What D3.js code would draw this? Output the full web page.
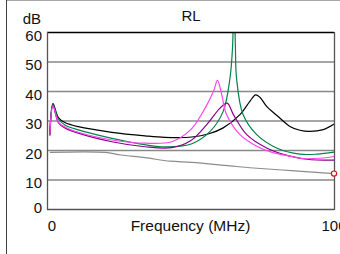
<!DOCTYPE html>
<html>
<head>
<meta charset="utf-8">
<script src="https://cdn.jsdelivr.net/npm/d3@7"></script>
<style>
  html, body { margin: 0; padding: 0; background: #fff; }
  svg { display: block; font-family: "Liberation Sans", Arial, sans-serif; }
</style>
</head>
<body>
<div id="chart"></div>
<script>
// Données
const yTicks = [0, 10, 20, 30, 40, 50, 60];
const xTickLabels = ["0", "100"];
const xTickValues = [0, 100];

const blackF  = [0, 1.1, 3, 5.3, 10, 21.8, 33.5, 40.5, 50, 56, 61, 66.9, 70.4, 72.4, 74, 76.3, 79.8, 84.5, 88, 91.5, 96.2, 100];
const blackDb = [25, 35.7, 31, 29.3, 27.9, 26, 24.8, 24.3, 24.4, 25.5, 27.5, 32, 36.5, 38.7, 37.8, 34.8, 31.8, 28, 26.7, 26.3, 26.9, 28.8];

const greenF  = [0, 1.1, 3, 5.3, 10, 15.9, 27.6, 39.4, 46, 50, 56.4, 61, 63.4, 64.3, 64.8, 65.3, 65.7, 68, 72.8, 79.8, 88, 94, 100];
const greenDb = [25, 35.3, 30.5, 28.5, 26.8, 25.3, 22.8, 21.1, 21.3, 22.1, 26.3, 33.1, 44.4, 55, 75, 55, 44.4, 32, 25.2, 20.7, 18.6, 18.6, 19.3];

const pinkF  = [0, 1.1, 3, 5.3, 10, 21.8, 33.5, 42.9, 49.5, 54, 57.6, 59, 60.5, 62.2, 66.9, 72.8, 78, 84.5, 89, 95, 100];
const pinkDb = [25, 35, 29.5, 27.8, 26, 23.4, 22.3, 22.8, 26.8, 33.1, 39.9, 43.6, 38.7, 32, 25.2, 21.3, 19.3, 17.9, 17.1, 17.2, 17.8];

const purpleF  = [0, 1.1, 3, 5.3, 10, 21.8, 33.5, 42.9, 49.5, 55.2, 59.9, 62.4, 64.6, 69.3, 76.3, 84.5, 92, 100];
const purpleDb = [25, 35, 29.3, 27.5, 25.7, 22.8, 21.1, 20.8, 23.1, 28.6, 34.2, 35.9, 32, 25.2, 20.7, 17.9, 16.7, 16.6];

const grayF  = [0, 19.4, 25, 33.5, 42.3, 50, 63.4, 71.6, 85, 100];
const grayDb = [19.2, 19.2, 18.3, 17.4, 16.2, 15.8, 14.6, 13.9, 13, 12];

const series = [
    { f: grayF,   db: grayDb,   color: "#8c8c8c" },
    { f: blackF,  db: blackDb,  color: "#000000" },
    { f: greenF,  db: greenDb,  color: "#00844a" },
    { f: purpleF, db: purpleDb, color: "#880088" },
    { f: pinkF,   db: pinkDb,   color: "#ff44ee" }
];

const CONFIG = {
    width: 340,
    height: 254,
    left: 47,
    right: 334,
    top: 32,
    bottom: 209
};

const svg = d3.select("#chart").append("svg")
    .attr("width", CONFIG.width)
    .attr("height", CONFIG.height);

// Cadre extérieur
svg.append("line")
    .attr("x1", 6).attr("x2", CONFIG.width).attr("y1", 0.5).attr("y2", 0.5)
    .attr("stroke", "#a8a8a8");
svg.append("line")
    .attr("x1", 6.5).attr("x2", 6.5).attr("y1", 0).attr("y2", CONFIG.height)
    .attr("stroke", "#444");

const x = d3.scaleLinear().domain([-1, 100]).range([CONFIG.left, CONFIG.right]);
const y = d3.scaleLinear().domain([0, 60]).range([CONFIG.bottom, CONFIG.top]);

// Grille
svg.selectAll(".grid")
    .data(yTicks.filter(v => v > 0 && v < 60))
    .enter()
    .append("line")
    .attr("x1", CONFIG.left).attr("x2", CONFIG.right)
    .attr("y1", d => y(d) + 0.5).attr("y2", d => y(d) + 0.5)
    .attr("stroke", "#888")
    .attr("stroke-width", 1.3);

// Courbes
svg.append("clipPath").attr("id", "plot-clip")
    .append("rect")
    .attr("x", CONFIG.left).attr("y", CONFIG.top)
    .attr("width", CONFIG.right - CONFIG.left)
    .attr("height", CONFIG.bottom - CONFIG.top);

const line = d3.line()
    .x(d => x(d[0]))
    .y(d => y(d[1]))
    .curve(d3.curveCatmullRom.alpha(0.5));

svg.append("g").attr("clip-path", "url(#plot-clip)")
    .selectAll("path")
    .data(series)
    .enter()
    .append("path")
    .attr("d", s => line(s.f.map((f, i) => [f, s.db[i]])))
    .attr("fill", "none")
    .attr("stroke", s => s.color)
    .attr("stroke-width", 1.2);

// Bordure du graphe
svg.append("line")
    .attr("x1", CONFIG.left).attr("x2", CONFIG.right)
    .attr("y1", CONFIG.top + 0.5).attr("y2", CONFIG.top + 0.5)
    .attr("stroke", "#000").attr("stroke-width", 1.3);
svg.append("line")
    .attr("x1", CONFIG.left).attr("x2", CONFIG.right)
    .attr("y1", CONFIG.bottom + 0.5).attr("y2", CONFIG.bottom + 0.5)
    .attr("stroke", "#555").attr("stroke-width", 1.3);
svg.append("line")
    .attr("x1", CONFIG.left + 0.5).attr("x2", CONFIG.left + 0.5)
    .attr("y1", CONFIG.top).attr("y2", CONFIG.bottom + 1)
    .attr("stroke", "#555").attr("stroke-width", 1.3);
svg.append("line")
    .attr("x1", CONFIG.right + 0.5).attr("x2", CONFIG.right + 0.5)
    .attr("y1", CONFIG.top).attr("y2", CONFIG.bottom + 1)
    .attr("stroke", "#555").attr("stroke-width", 1.3);

// Marqueur rouge en fin de courbe grise
svg.append("circle")
    .attr("cx", x(grayF[grayF.length - 1]))
    .attr("cy", y(grayDb[grayDb.length - 1]))
    .attr("r", 2.6)
    .attr("fill", "#fff")
    .attr("stroke", "#e01010")
    .attr("stroke-width", 1.2);

// Étiquettes axe Y
svg.selectAll(".ylab")
    .data(yTicks)
    .enter()
    .append("text")
    .attr("x", 42)
    .attr("y", d => d === 0 ? y(d) + 4 : y(d) + 8.5)
    .attr("text-anchor", "end")
    .attr("font-size", 15)
    .attr("fill", "#111")
    .text(d => d);

// Étiquettes axe X
svg.selectAll(".xlab")
    .data(xTickValues)
    .enter()
    .append("text")
    .attr("x", d => x(d) + (d === 0 ? 2 : 0))
    .attr("y", 231)
    .attr("text-anchor", "middle")
    .attr("font-size", 15)
    .attr("fill", "#111")
    .text((d, i) => xTickLabels[i]);

svg.append("text")
    .attr("x", (CONFIG.left + CONFIG.right) / 2)
    .attr("y", 231)
    .attr("text-anchor", "middle")
    .attr("font-size", 15.5)
    .attr("fill", "#111")
    .text("Frequency (MHz)");

svg.append("text")
    .attr("x", 41)
    .attr("y", 24)
    .attr("text-anchor", "end")
    .attr("font-size", 15)
    .attr("fill", "#111")
    .text("dB");

svg.append("text")
    .attr("x", 191)
    .attr("y", 21)
    .attr("text-anchor", "middle")
    .attr("font-size", 15)
    .attr("fill", "#111")
    .text("RL");
</script>
</body>
</html>
